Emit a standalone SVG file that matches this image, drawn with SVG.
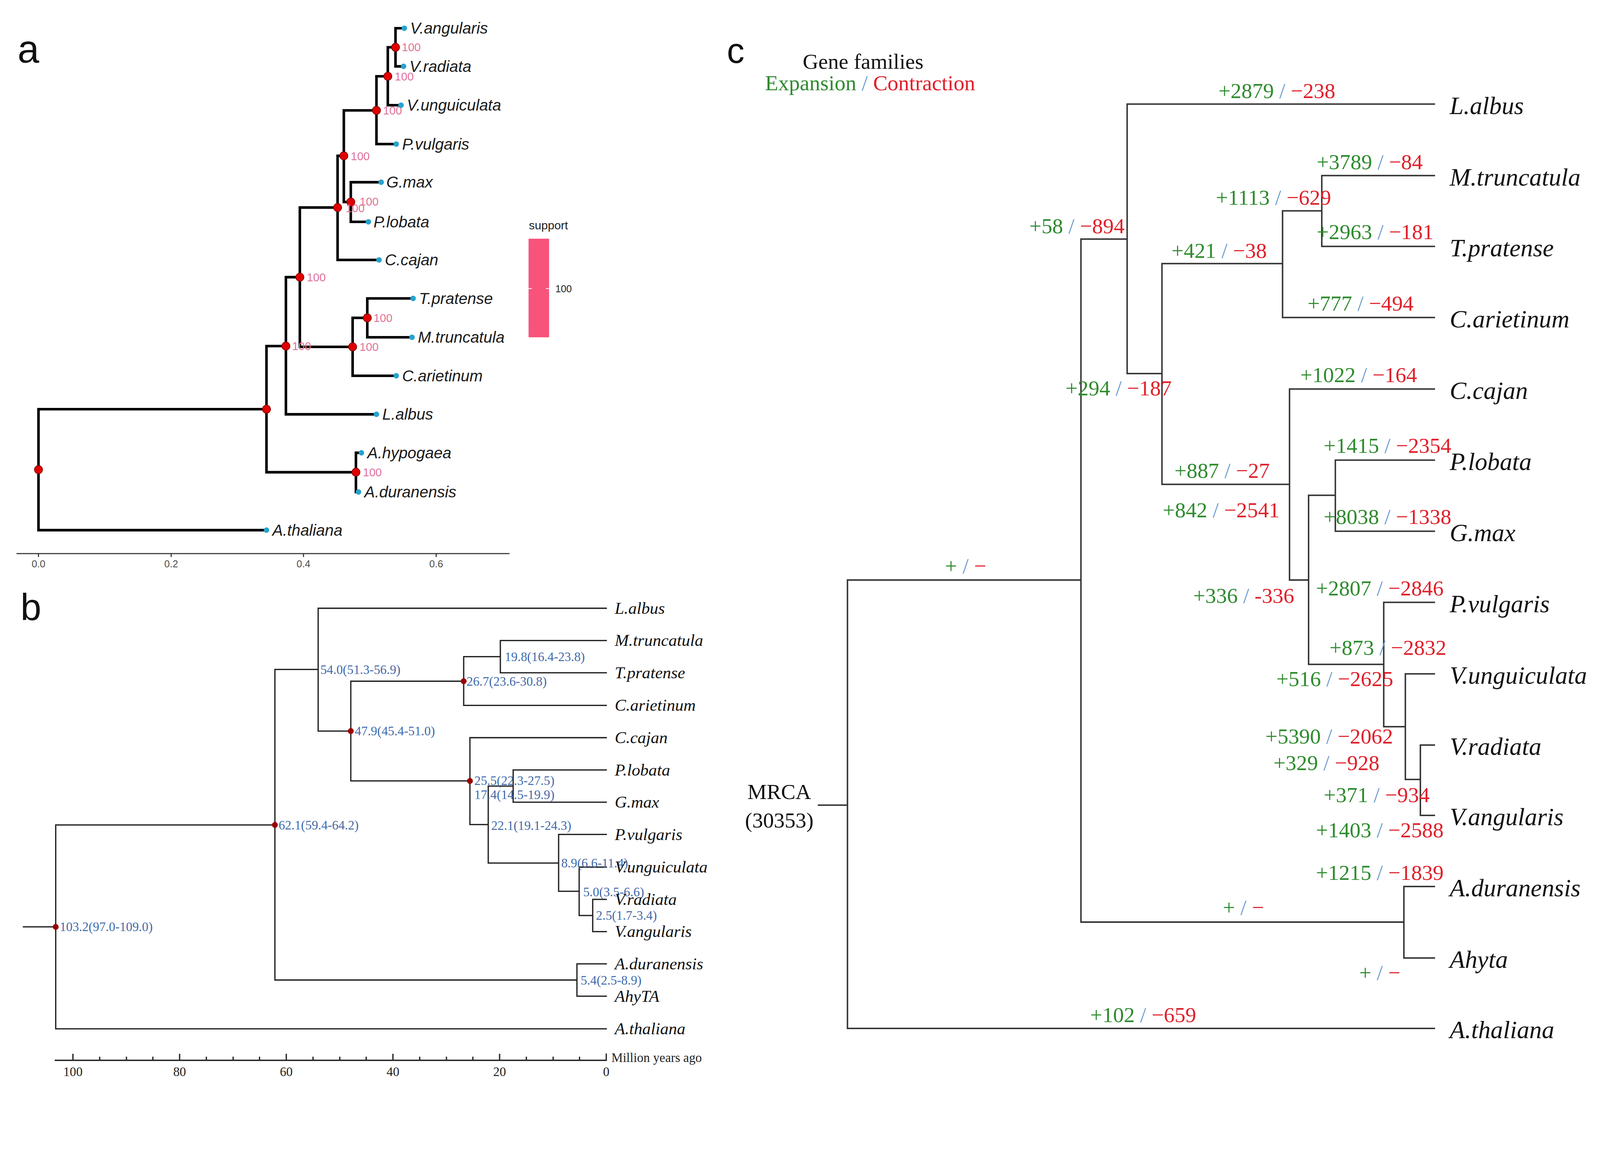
<svg xmlns="http://www.w3.org/2000/svg" width="4365" height="2974" viewBox="0 0 4365 2974">
<style>
.bg{fill:#ffffff}
.pl{font-family:"Liberation Sans",Arial,sans-serif;fill:#111}
.ea{fill:none;stroke:#000;stroke-width:7;stroke-linecap:square}
.rn{fill:#e00000;stroke:#8a0000;stroke-width:2}
.bt{fill:#27a3cf}
.ta{font-family:"Liberation Sans",Arial,sans-serif;font-style:italic;font-size:43px;fill:#1a1a1a}
.sa{font-family:"Liberation Sans",Arial,sans-serif;font-size:31px;fill:#e0709c}
.ax{fill:none;stroke:#333;stroke-width:3}
.axl{font-family:"Liberation Sans",Arial,sans-serif;font-size:27px;fill:#4d4d4d;text-anchor:middle}
.eb{fill:none;stroke:#222;stroke-width:3.5;stroke-linecap:square}
.rb{fill:#9b0000}
.tb{font-family:"Liberation Serif","Times New Roman",serif;font-style:italic;font-size:46px;fill:#111}
.lb{font-family:"Liberation Serif","Times New Roman",serif;font-size:35px;fill:#4169aa}
.axb{font-family:"Liberation Serif","Times New Roman",serif;font-size:35px;fill:#222;text-anchor:middle}
.ec{fill:none;stroke:#333;stroke-width:4;stroke-linecap:square}
.tc{font-family:"Liberation Serif","Times New Roman",serif;font-style:italic;font-size:68px;fill:#111}
.nc{font-family:"Liberation Serif","Times New Roman",serif;font-size:59px}
.g{fill:#2e8b2e}
.s{fill:#6b9bd1}
.r{fill:#e0202a}
.hd{font-family:"Liberation Serif","Times New Roman",serif;font-size:59px;fill:#111}
</style>
<rect class="bg" x="0" y="0" width="4365" height="2974"/>
<g id="figure" transform="scale(0.93837)">

<!-- Panel labels -->
<g id="panel-labels">
<text class="pl" x="48" y="171" font-size="106">a</text>
<text class="pl" x="56" y="1691" font-size="102">b</text>
<text class="pl" x="1983" y="172" font-size="96">c</text>
</g>

<!-- ================= PANEL A ================= -->
<g id="panel-a">
<g id="a-connectors">
<path class="ea" d="M105,1116V1446M105,1116H727M105,1446H727
M727,944V1288M727,944H780M727,1288H971
M971,1235V1342M971,1235H986M971,1342H978
M780,756V1130M780,756H818M780,1130H1027
M818,566V946M818,566H921M818,946H962
M962,867V1025M962,867H1002M962,1025H1081
M1002,814V920M1002,814H1127M1002,920H1124
M921,425V709M921,425H938M921,709H1034
M938,301V551M938,301H1027M938,551H957
M957,497V605M957,497H1040M957,605H1005
M1027,208V393M1027,208H1058M1027,393H1081
M1058,129V287M1058,129H1079M1058,287H1094
M1079,77V181M1079,77H1103M1079,181H1101"/>
</g>
<g id="a-nodes">
<circle class="rn" cx="105" cy="1281" r="11"/>
<circle class="rn" cx="727" cy="1116" r="11"/>
<circle class="rn" cx="971" cy="1288" r="11"/>
<circle class="rn" cx="780" cy="944" r="11"/>
<circle class="rn" cx="818" cy="756" r="11"/>
<circle class="rn" cx="962" cy="946" r="11"/>
<circle class="rn" cx="1002" cy="867" r="11"/>
<circle class="rn" cx="921" cy="566" r="11"/>
<circle class="rn" cx="938" cy="425" r="11"/>
<circle class="rn" cx="957" cy="551" r="11"/>
<circle class="rn" cx="1027" cy="301" r="11"/>
<circle class="rn" cx="1058" cy="208" r="11"/>
<circle class="rn" cx="1079" cy="129" r="11"/>
<text class="sa" x="1096" y="140">100</text>
<text class="sa" x="1077" y="219">100</text>
<text class="sa" x="1045" y="312">100</text>
<text class="sa" x="957" y="437">100</text>
<text class="sa" x="981" y="561">100</text>
<text class="sa" x="943" y="579">100</text>
<text class="sa" x="837" y="767">100</text>
<text class="sa" x="797" y="955">100</text>
<text class="sa" x="981" y="957">100</text>
<text class="sa" x="1019" y="878">100</text>
<text class="sa" x="990" y="1299">100</text>
</g>
<g id="a-tips">
<g id="a-vang"><circle class="bt" cx="1103" cy="77" r="7.5"/><text class="ta" x="1119" y="92">V.angularis</text></g>
<g id="a-vrad"><circle class="bt" cx="1101" cy="181" r="7.5"/><text class="ta" x="1117" y="196">V.radiata</text></g>
<g id="a-vung"><circle class="bt" cx="1094" cy="287" r="7.5"/><text class="ta" x="1110" y="302">V.unguiculata</text></g>
<g id="a-pvul"><circle class="bt" cx="1081" cy="393" r="7.5"/><text class="ta" x="1097" y="408">P.vulgaris</text></g>
<g id="a-gmax"><circle class="bt" cx="1040" cy="497" r="7.5"/><text class="ta" x="1054" y="512">G.max</text></g>
<g id="a-plob"><circle class="bt" cx="1005" cy="605" r="7.5"/><text class="ta" x="1019" y="620">P.lobata</text></g>
<g id="a-ccaj"><circle class="bt" cx="1034" cy="709" r="7.5"/><text class="ta" x="1050" y="724">C.cajan</text></g>
<g id="a-tpra"><circle class="bt" cx="1127" cy="814" r="7.5"/><text class="ta" x="1143" y="829">T.pratense</text></g>
<g id="a-mtru"><circle class="bt" cx="1124" cy="920" r="7.5"/><text class="ta" x="1140" y="935">M.truncatula</text></g>
<g id="a-cari"><circle class="bt" cx="1081" cy="1025" r="7.5"/><text class="ta" x="1097" y="1040">C.arietinum</text></g>
<g id="a-lalb"><circle class="bt" cx="1027" cy="1130" r="7.5"/><text class="ta" x="1043" y="1145">L.albus</text></g>
<g id="a-ahyp"><circle class="bt" cx="986" cy="1235" r="7.5"/><text class="ta" x="1002" y="1250">A.hypogaea</text></g>
<g id="a-adur"><circle class="bt" cx="978" cy="1342" r="7.5"/><text class="ta" x="994" y="1357">A.duranensis</text></g>
<g id="a-atha"><circle class="bt" cx="727" cy="1446" r="7.5"/><text class="ta" x="743" y="1461">A.thaliana</text></g>
</g>
<g id="a-axis">
<path class="ax" d="M45,1510H1390M105,1510V1519M467,1510V1519M828,1510V1519M1190,1510V1519"/>
<text class="axl" x="105" y="1547">0.0</text>
<text class="axl" x="467" y="1547">0.2</text>
<text class="axl" x="828" y="1547">0.4</text>
<text class="axl" x="1190" y="1547">0.6</text>
</g>
<g id="a-legend">
<text x="1443" y="626" font-family="Liberation Sans,Arial,sans-serif" font-size="32" fill="#222">support</text>
<rect x="1442" y="651" width="56" height="269" fill="#f7537b"/>
<path d="M1442,787H1451M1489,787H1498" stroke="#ffffff" stroke-width="2"/>
<text x="1515" y="797" font-family="Liberation Sans,Arial,sans-serif" font-size="27" fill="#222">100</text>
</g>
</g>

<!-- ================= PANEL B ================= -->
<g id="panel-b">
<g id="b-connectors">
<path class="eb" d="M64,2528H152M152,2250V2806M152,2250H750M152,2806H1654
M750,1826V2673M750,1826H868M750,2673H1574
M1574,2629V2717M1574,2629H1654M1574,2717H1654
M868,1659V1994M868,1659H1654M868,1994H957
M957,1858V2130M957,1858H1265M957,2130H1282
M1265,1791V1924M1265,1791H1365M1265,1924H1654
M1365,1747V1835M1365,1747H1654M1365,1835H1654
M1282,2012V2249M1282,2012H1654M1282,2249H1332
M1332,2144V2354M1332,2144H1400M1332,2354H1524
M1400,2100V2188M1400,2100H1654M1400,2188H1654
M1524,2276V2431M1524,2276H1654M1524,2431H1580
M1580,2365V2497M1580,2365H1654M1580,2497H1617
M1617,2453V2541M1617,2453H1654M1617,2541H1654"/>
</g>
<g id="b-nodes">
<circle class="rb" cx="152" cy="2528" r="8"/>
<circle class="rb" cx="750" cy="2250" r="8"/>
<circle class="rb" cx="957" cy="1994" r="8"/>
<circle class="rb" cx="1265" cy="1858" r="8"/>
<circle class="rb" cx="1282" cy="2130" r="8"/>
<text class="lb" x="163" y="2540">103.2(97.0-109.0)</text>
<text class="lb" x="760" y="2262">62.1(59.4-64.2)</text>
<text class="lb" x="874" y="1838">54.0(51.3-56.9)</text>
<text class="lb" x="968" y="2006">47.9(45.4-51.0)</text>
<text class="lb" x="1273" y="1870">26.7(23.6-30.8)</text>
<text class="lb" x="1377" y="1803">19.8(16.4-23.8)</text>
<text class="lb" x="1294" y="2141">25.5(22.3-27.5)</text>
<text class="lb" x="1294" y="2179">17.4(14.5-19.9)</text>
<text class="lb" x="1340" y="2263">22.1(19.1-24.3)</text>
<text class="lb" x="1531" y="2366">8.9(6.6-11.4)</text>
<text class="lb" x="1591" y="2445">5.0(3.5-6.6)</text>
<text class="lb" x="1626" y="2509">2.5(1.7-3.4)</text>
<text class="lb" x="1584" y="2685">5.4(2.5-8.9)</text>
</g>
<g id="b-tips">
<text class="tb" x="1677" y="1674">L.albus</text>
<text class="tb" x="1677" y="1762">M.truncatula</text>
<text class="tb" x="1677" y="1850">T.pratense</text>
<text class="tb" x="1677" y="1939">C.arietinum</text>
<text class="tb" x="1677" y="2027">C.cajan</text>
<text class="tb" x="1677" y="2115">P.lobata</text>
<text class="tb" x="1677" y="2203">G.max</text>
<text class="tb" x="1677" y="2291">P.vulgaris</text>
<text class="tb" x="1677" y="2380">V.unguiculata</text>
<text class="tb" x="1677" y="2468">V.radiata</text>
<text class="tb" x="1677" y="2556">V.angularis</text>
<text class="tb" x="1677" y="2644">A.duranensis</text>
<text class="tb" x="1677" y="2732">AhyTA</text>
<text class="tb" x="1677" y="2821">A.thaliana</text>
</g>
<g id="b-axis">
<path class="eb" stroke-width="3" d="M151,2892H1654
M1654,2892V2875M1363,2892V2876M1072,2892V2876M781,2892V2876M490,2892V2876M199,2892V2876
M1581,2892V2884M1509,2892V2884M1436,2892V2884
M1290,2892V2884M1218,2892V2884M1145,2892V2884
M999,2892V2884M927,2892V2884M854,2892V2884
M708,2892V2884M636,2892V2884M563,2892V2884
M417,2892V2884M345,2892V2884M272,2892V2884"/>
<text class="axb" x="199" y="2935">100</text>
<text class="axb" x="490" y="2935">80</text>
<text class="axb" x="781" y="2935">60</text>
<text class="axb" x="1072" y="2935">40</text>
<text class="axb" x="1363" y="2935">20</text>
<text class="axb" x="1654" y="2935">0</text>
<text x="1668" y="2896" font-family="Liberation Serif,Times New Roman,serif" font-size="35" fill="#222">Million years ago</text>
</g>
</g>

<!-- ================= PANEL C ================= -->
<g id="panel-c">
<g id="c-header">
<text class="hd" x="2190" y="188">Gene families</text>
<text class="nc" x="2087" y="246" font-size="57" xml:space="preserve"><tspan class="g">Expansion</tspan><tspan class="s"> / </tspan><tspan class="r">Contraction</tspan></text>
</g>
<g id="c-connectors">
<path class="ec" d="M2233,2196H2312M2312,1582V2805M2312,2805H3913M2312,1582H2949
M2949,652V2515M2949,2515H3830M3830,2418V2613M3830,2418H3913M3830,2613H3913
M2949,652H3075M3075,284V1019M3075,284H3913M3075,1019H3170
M3170,719V1321M3170,719H3499M3170,1321H3518
M3499,575V866M3499,575H3606M3499,866H3913
M3606,479V672M3606,479H3913M3606,672H3913
M3518,1061V1582M3518,1061H3913M3518,1582H3570
M3570,1351V1812M3570,1351H3643M3570,1812H3775
M3643,1255V1449M3643,1255H3913M3643,1449H3913
M3775,1643V1982M3775,1643H3913M3775,1982H3834
M3834,1838V2126M3834,1838H3913M3834,2126H3875
M3875,2032V2224M3875,2032H3913M3875,2224H3913"/>
</g>
<g id="c-root">
<text class="hd" x="2126" y="2179" text-anchor="middle" font-size="58">MRCA</text>
<text class="hd" x="2126" y="2257" text-anchor="middle" font-size="58">(30353)</text>
</g>
<g id="c-tips">
<text class="tc" x="3955" y="311">L.albus</text>
<text class="tc" x="3955" y="506">M.truncatula</text>
<text class="tc" x="3955" y="699">T.pratense</text>
<text class="tc" x="3955" y="893">C.arietinum</text>
<text class="tc" x="3955" y="1088">C.cajan</text>
<text class="tc" x="3955" y="1282">P.lobata</text>
<text class="tc" x="3955" y="1476">G.max</text>
<text class="tc" x="3955" y="1670">P.vulgaris</text>
<text class="tc" x="3955" y="1865">V.unguiculata</text>
<text class="tc" x="3955" y="2059">V.radiata</text>
<text class="tc" x="3955" y="2251">V.angularis</text>
<text class="tc" x="3955" y="2445">A.duranensis</text>
<text class="tc" x="3955" y="2640">Ahyta</text>
<text class="tc" x="3955" y="2832">A.thaliana</text>
</g>
<g id="c-labels">
<text class="nc" x="3324" y="267" xml:space="preserve"><tspan class="g">+2879</tspan><tspan class="s"> / </tspan><tspan class="r">−238</tspan></text>
<text class="nc" x="3592" y="461" xml:space="preserve"><tspan class="g">+3789</tspan><tspan class="s"> / </tspan><tspan class="r">−84</tspan></text>
<text class="nc" x="3317" y="558" xml:space="preserve"><tspan class="g">+1113</tspan><tspan class="s"> / </tspan><tspan class="r">−629</tspan></text>
<text class="nc" x="3592" y="652" xml:space="preserve"><tspan class="g">+2963</tspan><tspan class="s"> / </tspan><tspan class="r">−181</tspan></text>
<text class="nc" x="3196" y="703" xml:space="preserve"><tspan class="g">+421</tspan><tspan class="s"> / </tspan><tspan class="r">−38</tspan></text>
<text class="nc" x="3567" y="847" xml:space="preserve"><tspan class="g">+777</tspan><tspan class="s"> / </tspan><tspan class="r">−494</tspan></text>
<text class="nc" x="3547" y="1042" xml:space="preserve"><tspan class="g">+1022</tspan><tspan class="s"> / </tspan><tspan class="r">−164</tspan></text>
<text class="nc" x="2808" y="636" xml:space="preserve"><tspan class="g">+58</tspan><tspan class="s"> / </tspan><tspan class="r">−894</tspan></text>
<text class="nc" x="2907" y="1078" xml:space="preserve"><tspan class="g">+294</tspan><tspan class="s"> / </tspan><tspan class="r">−187</tspan></text>
<text class="nc" x="3204" y="1303" xml:space="preserve"><tspan class="g">+887</tspan><tspan class="s"> / </tspan><tspan class="r">−27</tspan></text>
<text class="nc" x="3172" y="1411" xml:space="preserve"><tspan class="g">+842</tspan><tspan class="s"> / </tspan><tspan class="r">−2541</tspan></text>
<text class="nc" x="3611" y="1235" xml:space="preserve"><tspan class="g">+1415</tspan><tspan class="s"> / </tspan><tspan class="r">−2354</tspan></text>
<text class="nc" x="3611" y="1429" xml:space="preserve"><tspan class="g">+8038</tspan><tspan class="s"> / </tspan><tspan class="r">−1338</tspan></text>
<text class="nc" x="3255" y="1644" xml:space="preserve"><tspan class="g">+336</tspan><tspan class="s"> / </tspan><tspan class="r">-336</tspan></text>
<text class="nc" x="3590" y="1624" xml:space="preserve"><tspan class="g">+2807</tspan><tspan class="s"> / </tspan><tspan class="r">−2846</tspan></text>
<text class="nc" x="3627" y="1786" xml:space="preserve"><tspan class="g">+873</tspan><tspan class="s"> / </tspan><tspan class="r">−2832</tspan></text>
<text class="nc" x="3482" y="1871" xml:space="preserve"><tspan class="g">+516</tspan><tspan class="s"> / </tspan><tspan class="r">−2625</tspan></text>
<text class="nc" x="3452" y="2028" xml:space="preserve"><tspan class="g">+5390</tspan><tspan class="s"> / </tspan><tspan class="r">−2062</tspan></text>
<text class="nc" x="3474" y="2100" xml:space="preserve"><tspan class="g">+329</tspan><tspan class="s"> / </tspan><tspan class="r">−928</tspan></text>
<text class="nc" x="3611" y="2188" xml:space="preserve"><tspan class="g">+371</tspan><tspan class="s"> / </tspan><tspan class="r">−934</tspan></text>
<text class="nc" x="3590" y="2284" xml:space="preserve"><tspan class="g">+1403</tspan><tspan class="s"> / </tspan><tspan class="r">−2588</tspan></text>
<text class="nc" x="3590" y="2400" xml:space="preserve"><tspan class="g">+1215</tspan><tspan class="s"> / </tspan><tspan class="r">−1839</tspan></text>
<text class="nc" x="2974" y="2788" xml:space="preserve"><tspan class="g">+102</tspan><tspan class="s"> / </tspan><tspan class="r">−659</tspan></text>
<text class="nc" x="2578" y="1563" font-size="52" xml:space="preserve"><tspan class="g">+</tspan><tspan class="s"> / </tspan><tspan class="r">−</tspan></text>
<text class="nc" x="3336" y="2495" font-size="52" xml:space="preserve"><tspan class="g">+</tspan><tspan class="s"> / </tspan><tspan class="r">−</tspan></text>
<text class="nc" x="3708" y="2673" font-size="52" xml:space="preserve"><tspan class="g">+</tspan><tspan class="s"> / </tspan><tspan class="r">−</tspan></text>
</g>
</g>
</g>
</svg>
